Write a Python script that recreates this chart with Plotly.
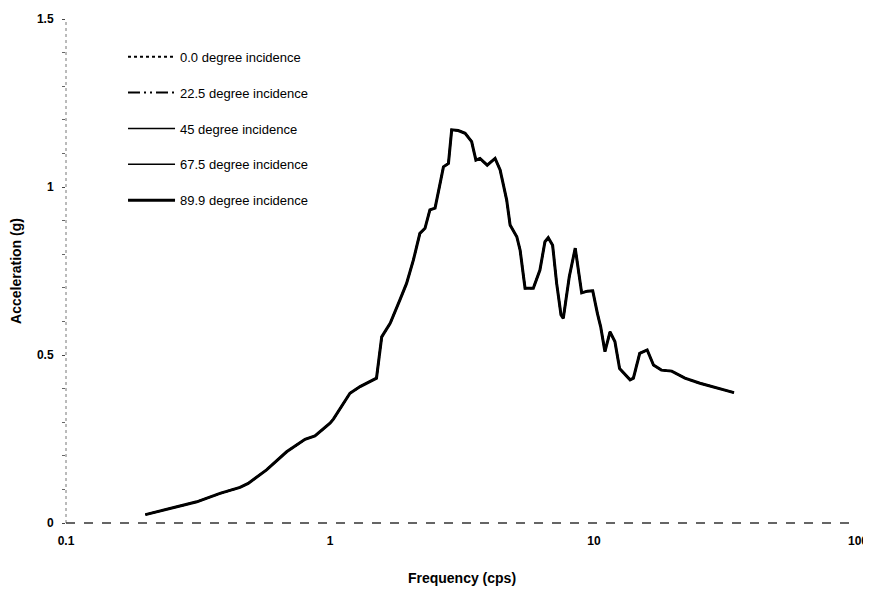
import plotly.graph_objects as go

freq = [0.2, 0.27, 0.313, 0.383, 0.456, 0.49, 0.575, 0.685, 0.804, 0.877, 1.0, 1.03,
        1.19, 1.3, 1.5, 1.57, 1.69, 1.84, 1.95, 2.07, 2.19, 2.29, 2.39, 2.5, 2.69, 2.81,
        2.89, 3.06, 3.25, 3.44, 3.57, 3.7, 3.94, 4.22, 4.41, 4.67, 4.81, 5.1, 5.25, 5.48,
        5.89, 6.24, 6.52, 6.71, 6.97, 7.22, 7.5, 7.65, 8.06, 8.49, 8.65, 8.98, 9.44, 9.89,
        10.3, 10.6, 11.0, 11.5, 12.0, 12.5, 13.7, 14.1, 14.9, 15.9, 16.8, 18.0, 19.7,
        22.1, 25.2, 29.2, 33.9]
accel = [0.025, 0.049, 0.063, 0.088, 0.106, 0.118, 0.158, 0.212, 0.249, 0.259, 0.297, 0.309,
         0.386, 0.406, 0.431, 0.554, 0.594, 0.664, 0.713, 0.783, 0.862, 0.877, 0.932, 0.937, 1.06, 1.07,
         1.17, 1.168, 1.16, 1.135, 1.08, 1.085, 1.065, 1.085, 1.051, 0.961, 0.887, 0.852, 0.812, 0.699,
         0.699, 0.753, 0.837, 0.849, 0.827, 0.713, 0.619, 0.609, 0.733, 0.818, 0.768, 0.685, 0.69, 0.691,
         0.624, 0.584, 0.51, 0.569, 0.54, 0.46, 0.426, 0.431, 0.505, 0.515, 0.47, 0.455, 0.452,
         0.431, 0.416, 0.401, 0.388]

series_names = ["0.0 degree incidence", "22.5 degree incidence", "45 degree incidence",
                "67.5 degree incidence", "89.9 degree incidence"]
dashes = ["dot", "12px,4px,2px,4px,2px,4px", "solid", "solid", "solid"]
widths = [2, 2, 1.5, 1.5, 3]

x_tickvals = [0.1, 1, 10, 100]
x_ticktext = ["0.1", "1", "10", "100"]
y_tickvals = [0, 0.5, 1, 1.5]
y_ticktext = ["0", "0.5", "1", "1.5"]

FONT = "Liberation Sans, Arial, sans-serif"

fig = go.Figure()
for i, (name, dash, w) in enumerate(zip(series_names, dashes, widths)):
    fig.add_trace(go.Scatter(
        x=freq, y=accel, mode="lines", name=name,
        legendgroup=f"g{i}",
        line=dict(color="black", width=w, dash=dash),
    ))

fig.update_layout(
    width=863, height=583,
    margin=dict(l=58, r=13, t=11, b=68),
    paper_bgcolor="white", plot_bgcolor="white",
    font=dict(family=FONT, color="black"),
    showlegend=True,
    legend=dict(
        x=0.072, y=0.955, xanchor="left", yanchor="top",
        bgcolor="rgba(0,0,0,0)", itemwidth=47, tracegroupgap=16,
        font=dict(size=13, color="black"),
    ),
    xaxis=dict(
        type="log", range=[-1, 2], automargin=False,
        tickvals=x_tickvals, ticktext=x_ticktext,
        tickfont=dict(size=12, family=FONT, weight="bold"),
        showgrid=False, zeroline=False, showline=False,
        ticks="", ticklen=0, ticklabelstandoff=9,
        title=dict(text="<b>Frequency (cps)</b>", font=dict(size=14), standoff=26),
    ),
    yaxis=dict(
        range=[0, 1.5], automargin=False,
        tickvals=y_tickvals, ticktext=y_ticktext,
        tickfont=dict(size=12, weight="bold"),
        showgrid=False, zeroline=False, showline=False,
        ticks="outside", ticklen=3, tickcolor="#444", ticklabelstandoff=6,
        minor=dict(dtick=0.1, ticks="outside", ticklen=3, tickcolor="#666"),
        title=dict(text="<b>Acceleration (g)</b>", font=dict(size=14), standoff=18),
    ),
    shapes=[
        dict(type="line", xref="paper", yref="paper", x0=0, x1=0, y0=0, y1=1,
             line=dict(color="#777", width=1, dash="dot")),
        dict(type="line", xref="paper", yref="paper", x0=0, x1=1, y0=0, y1=0,
             line=dict(color="#333", width=1.5, dash="dash")),
    ],
)

fig.write_html("out.html")
